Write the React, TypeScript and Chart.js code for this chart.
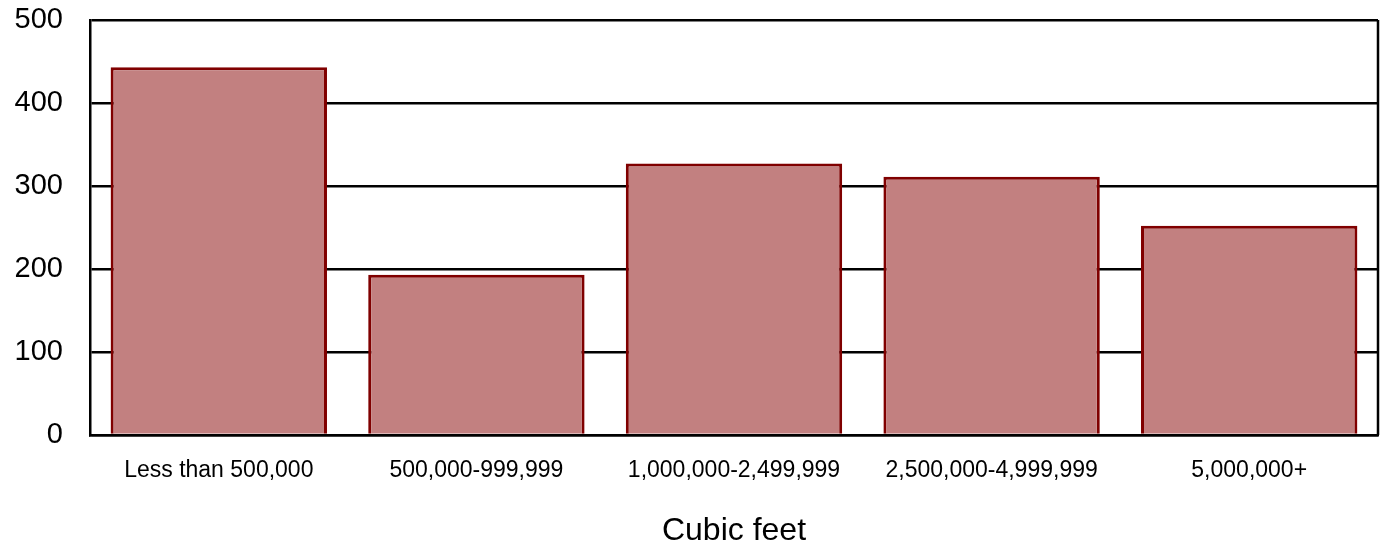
import React, { useEffect, useRef } from "react";
import { Chart, registerables } from "chart.js";

Chart.register(...registerables);

const categories = [
  "Less than 500,000",
  "500,000-999,999",
  "1,000,000-2,499,999",
  "2,500,000-4,999,999",
  "5,000,000+",
];
const values = [443, 193, 327, 311, 252];
const yTicks = [0, 100, 200, 300, 400, 500];
const xTitle = "Cubic feet";

const frame = {
  id: "frame",
  afterDraw(chart: any) {
    const { ctx, chartArea } = chart;
    ctx.save();
    ctx.strokeStyle = "#000";
    ctx.lineWidth = 2.5;
    ctx.beginPath();
    ctx.moveTo(chartArea.right, chartArea.top);
    ctx.lineTo(chartArea.right, chartArea.bottom);
    ctx.stroke();
    ctx.restore();
  },
};

export default function App() {
  const ref = useRef<HTMLCanvasElement>(null);
  useEffect(() => {
    document.body.style.margin = "0";
    const chart = new Chart(ref.current!, {
      type: "bar",
      data: {
        labels: categories,
        datasets: [
          {
            data: values,
            backgroundColor: "rgb(194,128,128)",
            borderColor: "#800000",
            borderWidth: 3,
            categoryPercentage: 1,
            barPercentage: 0.84,
          },
        ],
      },
      plugins: [frame],
      options: {
        animation: false,
        responsive: false,
        layout: { padding: { top: 20, right: 4, left: 0, bottom: 0 } },
        plugins: { legend: { display: false }, tooltip: { enabled: false } },
        scales: {
          x: {
            grid: { display: false },
            border: { color: "#000", width: 2.5 },
            ticks: {
              color: "#000",
              font: { family: "Liberation Sans", size: 23 },
              padding: 14,
            },
            title: {
              display: true,
              text: xTitle,
              color: "#000",
              font: { family: "Liberation Sans", size: 32, lineHeight: 1 },
              padding: { top: 10, bottom: -4 },
            },
            afterFit(scale: any) {
              scale.height = 108;
            },
          },
          y: {
            min: 0,
            max: 500,
            afterBuildTicks(scale: any) {
              scale.ticks = yTicks.map((v) => ({ value: v }));
            },
            grid: { color: "#000", lineWidth: 2.5, tickLength: 0 },
            border: { color: "#000", width: 2.5 },
            ticks: {
              color: "#000",
              font: { family: "Liberation Sans", size: 29 },
              padding: 27,
            },
            afterFit(scale: any) {
              scale.width = 90;
              scale.paddingTop = 0;
              scale.paddingBottom = 0;
            },
          },
        },
      },
    });
    return () => chart.destroy();
  }, []);
  return <canvas ref={ref} width={1382} height={543} style={{ display: "block" }} />;
}
